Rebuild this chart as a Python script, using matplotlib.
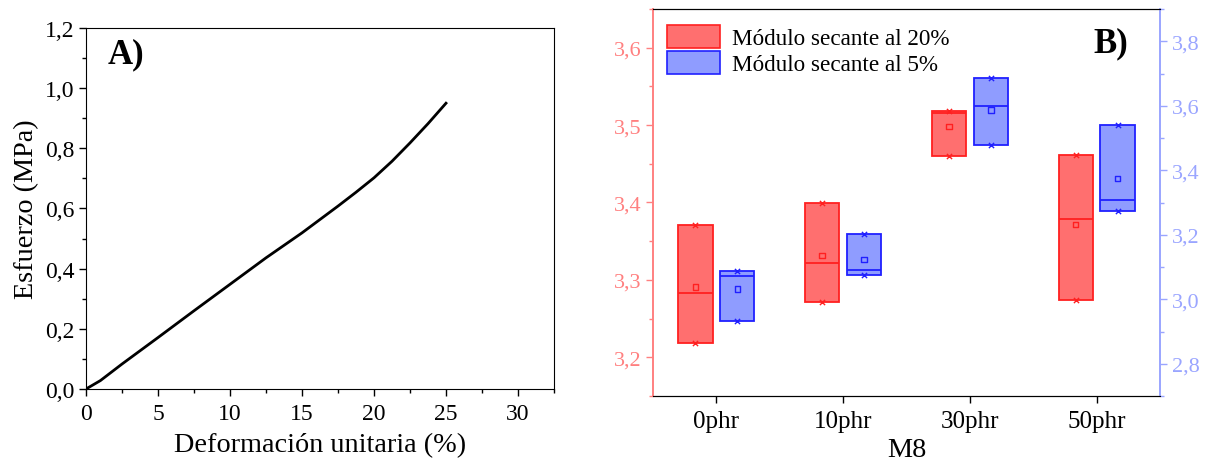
import matplotlib
matplotlib.use("Agg")
import matplotlib.pyplot as plt
import matplotlib.ticker as mticker
from matplotlib.patches import Patch
import numpy as np

plt.rcParams['font.family'] = ['Liberation Serif', 'DejaVu Serif']

# stress-strain curve
deformacion = [0, 1, 2.5, 5, 7.5, 10, 12.5, 15, 17.5, 18.75, 20, 21.25, 22.5, 23.75, 25]
esfuerzo = [0, 0.028, 0.083, 0.171, 0.26, 0.348, 0.436, 0.519, 0.608, 0.654,
            0.702, 0.757, 0.818, 0.882, 0.950]

# secant modulus, three specimens per formulation
categorias = ['0phr', '10phr', '30phr', '50phr']
modulo_20 = [[3.219, 3.283, 3.371],
             [3.272, 3.322, 3.400],
             [3.460, 3.516, 3.518],
             [3.274, 3.379, 3.462]]
modulo_5 = [[2.934, 3.071, 3.088],
            [3.074, 3.092, 3.203],
            [3.478, 3.598, 3.686],
            [3.274, 3.307, 3.541]]


def comma(v, pos):
    return f"{v:.1f}".replace('.', ',')


fig = plt.figure(figsize=(12.05, 4.64), dpi=100)
W, H = 1205, 464

# --- A) ---
ax1 = fig.add_axes([86 / W, 1 - 390 / H, 468 / W, 361 / H])
ax1.plot(deformacion, esfuerzo, color='black', lw=2)
ax1.set_xlim(0, 32.5)
ax1.set_ylim(0, 1.2)
ax1.xaxis.set_major_locator(mticker.MultipleLocator(5))
ax1.xaxis.set_minor_locator(mticker.MultipleLocator(2.5))
ax1.yaxis.set_major_locator(mticker.MultipleLocator(0.2))
ax1.yaxis.set_minor_locator(mticker.MultipleLocator(0.1))
ax1.yaxis.set_major_formatter(mticker.FuncFormatter(comma))
ax1.tick_params(which='major', direction='out', length=5, width=1, labelsize=17)
ax1.tick_params(axis='x', which='major', pad=5)
ax1.tick_params(which='minor', direction='out', length=3, width=1)
ax1.set_xlabel('Deformación unitaria (%)', fontsize=20.3, labelpad=6)
ax1.set_ylabel('Esfuerzo (MPa)', fontsize=20.3, labelpad=4)
ax1.text(0.047, 0.975, 'A)', transform=ax1.transAxes, fontsize=25,
         fontweight='bold', va='top', ha='left')

# --- B) ---
ax2 = fig.add_axes([653 / W, 1 - 397 / H, 507 / W, 387 / H])
ax3 = ax2.twinx()

red_edge, red_fill = '#FF2020', '#FF6F6F'
blue_edge, blue_fill = '#2020FF', '#8F9CFF'
left_col, right_col = '#FF8080', '#9AA5FF'

x = np.arange(1, len(categorias) + 1)
off, w = 0.165, 0.27


def draw_boxes(ax, data, xpos, edge, fill):
    d = np.array(data)
    lo, med, hi, mean = d.min(1), np.median(d, 1), d.max(1), d.mean(1)
    ax.bar(xpos, hi - lo, bottom=lo, width=w, color=fill, edgecolor=edge,
           linewidth=1.3, zorder=2)
    ax.hlines(med, xpos - w / 2, xpos + w / 2, color=edge, lw=1.3, zorder=3)
    ax.scatter(xpos, mean, marker='s', s=16, facecolor='none',
               edgecolor=edge, linewidth=1, zorder=4)
    ax.scatter(np.r_[xpos, xpos], np.r_[lo, hi], marker='x', s=14,
               color=edge, linewidth=1, zorder=4)


draw_boxes(ax2, modulo_20, x - off, red_edge, red_fill)
draw_boxes(ax3, modulo_5, x + off, blue_edge, blue_fill)

ax2.set_xlim(0.5, 4.5)
ax2.set_ylim(3.15, 3.65)
ax3.set_ylim(2.7, 3.9)
ax2.set_xticks(x)
ax2.set_xticklabels(categorias)
ax2.yaxis.set_major_locator(mticker.MultipleLocator(0.1))
ax2.yaxis.set_minor_locator(mticker.MultipleLocator(0.05))
ax3.yaxis.set_major_locator(mticker.MultipleLocator(0.2))
ax3.yaxis.set_minor_locator(mticker.MultipleLocator(0.1))
ax2.yaxis.set_major_formatter(mticker.FuncFormatter(comma))
ax3.yaxis.set_major_formatter(mticker.FuncFormatter(comma))

ax2.tick_params(axis='x', direction='out', length=5, width=1, labelsize=18, pad=5)
ax2.tick_params(axis='y', which='major', direction='out', length=5, width=1,
                colors=left_col, labelsize=16)
ax2.tick_params(axis='y', which='minor', direction='out', length=3, width=1,
                colors=left_col)
ax3.tick_params(axis='y', which='major', direction='out', length=5, width=1,
                colors=right_col, labelsize=16)
ax3.tick_params(axis='y', which='minor', direction='out', length=3, width=1,
                colors=right_col)
for a in (ax2, ax3):
    a.spines['left'].set_color(left_col)
    a.spines['right'].set_color(right_col)
    a.spines['left'].set_linewidth(1.2)
    a.spines['right'].set_linewidth(1.2)
ax2.set_xlabel('M8', fontsize=20.3, labelpad=4)

handles = [Patch(facecolor=red_fill, edgecolor=red_edge, lw=1.2),
           Patch(facecolor=blue_fill, edgecolor=blue_edge, lw=1.2)]
ax3.legend(handles, ['Módulo secante al 20%', 'Módulo secante al 5%'],
           loc='upper left', bbox_to_anchor=(0.0, 0.995), frameon=False,
           fontsize=16.7, handlelength=2.3, handleheight=1.15,
           labelspacing=0.08, handletextpad=0.5, borderaxespad=0.2)
ax3.text(0.937, 0.955, 'B)', transform=ax3.transAxes, fontsize=25,
         fontweight='bold', va='top', ha='right')

fig.savefig('out.png', dpi=100)
